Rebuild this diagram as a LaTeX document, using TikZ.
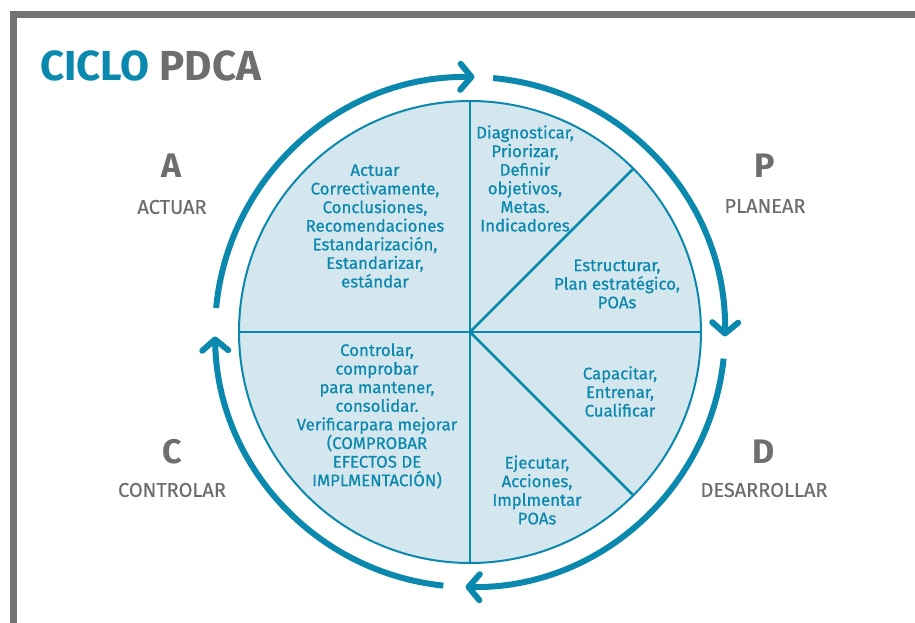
\documentclass[tikz,border=0pt]{standalone}
\usepackage{fontspec}
\setmainfont{Fira Sans}
\newfontfamily\wheelfont[FakeBold=0.6]{Fira Sans}
\usepackage{tikz}
\usetikzlibrary{arrows.meta}
\definecolor{pdblue}{RGB}{10,136,173}
\definecolor{pdfill}{RGB}{212,230,238}
\definecolor{pdgray}{RGB}{110,110,110}
\definecolor{pdframe}{RGB}{115,115,115}

\begin{document}
\begin{tikzpicture}[x=1pt,y=1pt,
  sector/.style={text=pdblue, align=center, inner sep=0pt, font=\wheelfont\fontsize{16.8}{18.6}\selectfont},
  letter/.style={text=pdgray, font=\fontsize{34}{34}\selectfont\bfseries},
  phase/.style={text=pdgray, font=\wheelfont\fontsize{20}{20}\selectfont},
  ring/.style={pdblue, line width=6pt, -{Straight Barb[round,length=11pt,width=26pt]}}]
\useasboundingbox (-470,-290) rectangle (445,332);

% frame
\draw[pdframe, line width=7pt] (-460,317.5) -- (450,317.5);
\draw[pdframe, line width=6.5pt] (-456.7,321) -- (-456.7,-300);

\path (-430,252) node[anchor=base west, inner sep=0pt, font=\fontsize{42}{42}\selectfont\bfseries] (title)
  {\textcolor{pdblue}{CICLO} \textcolor{pdgray}{PDCA}};

% the wheel and its four quarters
\coordinate (o) at (0,0);
\filldraw[fill=pdfill, draw=pdblue, line width=2pt] (o) circle[radius=231];
\draw[pdblue, line width=2.5pt] (90:231) -- (-90:231);
\draw[pdblue, line width=2.5pt] (180:231) -- (0:231);
\draw[pdblue, line width=2.5pt] (o) -- (45:231);
\draw[pdblue, line width=2.5pt] (o) -- (-45:231);

% outer ring, clockwise
\foreach \s/\e in {174.6/89, 84.8/-1, -6/-91, -96/-179}
  \draw[ring] (\s:255) arc[start angle=\s, end angle=\e, radius=255];

\path (-95,106) node[sector] (actuar) {Actuar\\ Correctivamente,\\ Conclusiones,\\ Recomendaciones\\ Estandarización,\\ Estandarizar,\\ estándar};
\path (55,153.5) node[sector] (diag) {Diagnosticar,\\ Priorizar,\\ Definir\\ objetivos,\\ Metas.\\ Indicadores};
\path (147,48) node[sector] (estr) {Estructurar,\\ Plan estratégico,\\ POAs};
\path (150,-59.5) node[sector] (capa) {Capacitar,\\ Entrenar,\\ Cualificar};
\path (67,-158) node[sector] (ejec) {Ejecutar,\\ Acciones,\\ Implmentar\\ POAs};
\path (-93,-84) node[sector] (contr) {Controlar,\\ comprobar\\ para mantener,\\ consolidar.\\ Verificarpara mejorar\\ (COMPROBAR\\ EFECTOS DE\\ IMPLMENTACIÓN)};

% phase letters
\path (-298,166) node[letter] (A) {A};
\path (-298,125) node[phase] (a) {ACTUAR};
\path (295,166) node[letter] (P) {P};
\path (295,126) node[phase] (p) {PLANEAR};
\path (-298,-120) node[letter] (C) {C};
\path (-298,-158) node[phase] (c) {CONTROLAR};
\path (294,-120) node[letter] (D) {D};
\path (294,-158) node[phase] (d) {DESARROLLAR};
\end{tikzpicture}
\end{document}
